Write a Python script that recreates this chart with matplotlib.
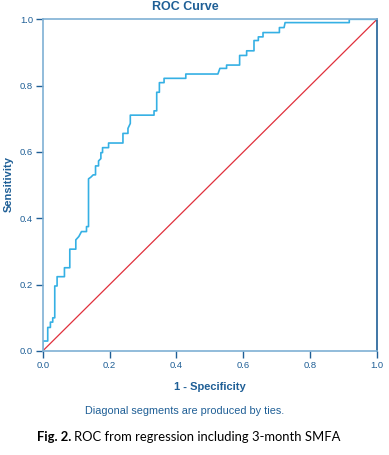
import matplotlib.pyplot as plt

# ROC curve vertices (1 - specificity, sensitivity)
fpr = [0.0, 0.0, 0.015, 0.015, 0.023, 0.023, 0.030, 0.030, 0.036, 0.036,
       0.043, 0.043, 0.065, 0.065, 0.081, 0.081, 0.099, 0.099, 0.108, 0.116,
       0.131, 0.131, 0.137, 0.137, 0.144, 0.151, 0.158, 0.158, 0.167, 0.167,
       0.174, 0.174, 0.179, 0.179, 0.197, 0.197, 0.240, 0.240, 0.255, 0.255,
       0.262, 0.262, 0.333, 0.333, 0.341, 0.341, 0.349, 0.349, 0.363, 0.363,
       0.428, 0.428, 0.524, 0.530, 0.550, 0.550, 0.589, 0.589, 0.610, 0.610,
       0.632, 0.632, 0.645, 0.645, 0.659, 0.659, 0.708, 0.708, 0.722, 0.725,
       0.917, 0.917, 1.0]
tpr = [0.0, 0.030, 0.030, 0.071, 0.071, 0.087, 0.087, 0.100, 0.100, 0.196,
       0.196, 0.224, 0.224, 0.251, 0.251, 0.307, 0.307, 0.335, 0.345, 0.360,
       0.360, 0.375, 0.375, 0.519, 0.524, 0.531, 0.531, 0.558, 0.558, 0.573,
       0.580, 0.598, 0.598, 0.613, 0.613, 0.627, 0.627, 0.656, 0.656, 0.671,
       0.686, 0.711, 0.711, 0.724, 0.724, 0.780, 0.780, 0.809, 0.809, 0.822,
       0.822, 0.835, 0.835, 0.852, 0.852, 0.862, 0.862, 0.891, 0.891, 0.905,
       0.905, 0.936, 0.936, 0.947, 0.947, 0.960, 0.960, 0.975, 0.975, 0.990,
       0.990, 1.0, 1.0]
ticks = [0.0, 0.2, 0.4, 0.6, 0.8, 1.0]
tick_labels = ['0.0', '0.2', '0.4', '0.6', '0.8', '1.0']

blue = '#1f5f96'
plt.rcParams['font.family'] = ['Liberation Sans', 'DejaVu Sans']

W, H = 389, 455
fig = plt.figure(figsize=(W / 100, H / 100), dpi=100)
ax = fig.add_axes([0.1098, 0.2286, 0.8594, 0.729])

ax.plot([0, 1], [0, 1], color='#e0303c', lw=0.9)
ax.plot(fpr, tpr, color='#35b0e4', lw=1.2)

ax.set_xlim(0, 1)
ax.set_ylim(0, 1)
ax.set_xticks(ticks)
ax.set_xticklabels(tick_labels)
ax.set_yticks(ticks)
ax.set_yticklabels(tick_labels)
ax.tick_params(direction='out', length=5, width=1, color=blue,
               labelcolor=blue, labelsize=6.8, pad=2)

for side in ['left', 'top', 'bottom']:
    ax.spines[side].set_color('#7fb0d4')
ax.spines['right'].set_color('#1f5f96')
for side in ax.spines:
    ax.spines[side].set_linewidth(1.2)

ax.set_xlabel('1 - Specificity', color=blue, fontsize=8, fontweight='bold',
              labelpad=9)
fig.text(9 / W, 1 - 184 / H, 'Sensitivity', color=blue, fontsize=8,
         fontweight='bold', rotation=90, ha='center', va='center')

fig.text(185.5 / W, 1 - 7.5 / H, 'ROC Curve', color=blue, fontsize=9,
         fontweight='bold', ha='center', va='center')
fig.text(184.5 / W, 1 - 410.5 / H, 'Diagonal segments are produced by ties.',
         color=blue, fontsize=7.8, ha='center', va='center')

# caption: bold "Fig. 2." then the rest right after it
cap_y = 1 - 441 / H
t1 = fig.text(37 / W, cap_y, 'Fig. 2.', fontsize=9.4, fontweight='bold',
              ha='left', va='baseline', color='black', family='Lato')
r = fig.canvas.get_renderer()
bb = t1.get_window_extent(renderer=r)
fig.text((bb.x1 + 3) / W, cap_y, 'ROC from regression including 3-month SMFA',
         fontsize=9.4, ha='left', va='baseline', color='black', family='Lato')

fig.savefig('out.png', dpi=100)
